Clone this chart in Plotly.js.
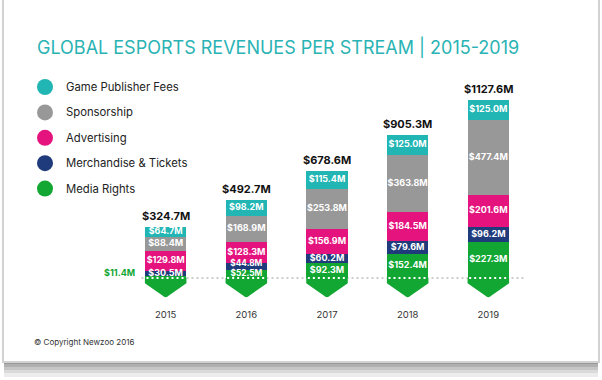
<!DOCTYPE html>
<html>
<head>
<meta charset="utf-8">
<script src="https://cdn.plot.ly/plotly-3.0.1.min.js"></script>
<style>html,body{margin:0;padding:0;background:#fff;}#chart{width:602px;height:380px;}</style>
</head>
<body>
<div id="chart"></div>
<script>
// ---- data (bottom of the stack first) ----
const years = ['2015', '2016', '2017', '2018', '2019'];
const seriesNames = ['Media Rights', 'Merchandise & Tickets', 'Advertising', 'Sponsorship', 'Game Publisher Fees'];
const mediaRights   = [11.4, 52.5, 92.3, 152.4, 227.3];
const merchandise   = [30.5, 44.8, 60.2, 79.6, 96.2];
const advertising   = [129.8, 128.3, 156.9, 184.5, 201.6];
const sponsorship   = [88.4, 168.9, 253.8, 363.8, 477.4];
const publisherFees = [64.7, 98.2, 115.4, 125.0, 125.0];
const totals        = [324.7, 492.7, 678.6, 905.3, 1127.6];
const legendOrder   = ['Game Publisher Fees', 'Sponsorship', 'Advertising', 'Merchandise & Tickets', 'Media Rights'];

const seriesValues = [mediaRights, merchandise, advertising, sponsorship, publisherFees];
const colors = {
  'Media Rights': '#12a632',
  'Merchandise & Tickets': '#1f3b7b',
  'Advertising': '#e5137e',
  'Sponsorship': '#989898',
  'Game Publisher Fees': '#21b5b3'
};

// ---- geometry ----
const L = 85, T = 80, W = 484, H = 220;
const xRange = [-1, 5], yRange = [-139.3, 1253];
const pxPerUnitY = H / (yRange[1] - yRange[0]);
const barFrac = 0.515;
const px2x = p => (p - L) / W;
const py2y = p => (T + H - p) / H;
const xs = years.map((y, i) => i);
const FONT = 'Inter, Lato, sans-serif';
const MIN_LABEL_GAP = 10; // px between stacked label centres

const traces = [];
seriesNames.forEach((name, s) => {
  traces.push({
    type: 'bar', name: name, x: xs, y: seriesValues[s],
    marker: {color: colors[name], line: {width: 0}},
    showlegend: false, hoverinfo: 'skip'
  });
});

// segment labels
const lx = [], ly = [], lt = [], ls = [];
const annotations = [];
const base = xs.map(() => 0);
const lastLabelY = xs.map(() => null);
const lastLabelIdx = xs.map(() => null);
seriesNames.forEach((name, s) => {
  seriesValues[s].forEach((v, i) => {
    const label = '$' + v.toFixed(1) + 'M';
    if (v * pxPerUnitY < 3) {
      annotations.push({x: i, y: base[i] + v / 2, xref: 'x', yref: 'y', text: '<b>' + label + '</b>',
        showarrow: false, xanchor: 'right', yanchor: 'middle', xshift: -29, yshift: 4.5,
        font: {family: FONT, size: 9, color: colors[name]}});
    } else {
      let yMid = base[i] + v / 2;
      let size = 9;
      if (lastLabelY[i] !== null && (yMid - lastLabelY[i]) * pxPerUnitY < MIN_LABEL_GAP) {
        yMid = lastLabelY[i] + MIN_LABEL_GAP / pxPerUnitY;
        size = 8.3;
        ls[lastLabelIdx[i]] = 8.3;
      }
      lx.push(i); ly.push(yMid); lt.push('<b>' + label + '</b>'); ls.push(size);
      lastLabelY[i] = yMid;
      lastLabelIdx[i] = lx.length - 1;
    }
    base[i] += v;
  });
});
traces.push({type: 'scatter', mode: 'text', x: lx, y: ly, text: lt, textposition: 'middle center',
  textfont: {family: FONT, size: ls, color: '#ffffff'}, showlegend: false, hoverinfo: 'skip', cliponaxis: false});

// totals above the bars
totals.forEach((t, i) => {
  annotations.push({x: i, y: t, xref: 'x', yref: 'y', text: '<b>$' + t.toFixed(1) + 'M</b>', showarrow: false,
    xanchor: 'center', yanchor: 'middle', yshift: 11, font: {family: FONT, size: 11, color: '#111111'}});
});

// shapes
const shapes = [];
// card and shadow
const shadow = [[362, 364, '#999999'], [364, 367, '#b0b0b0'], [367, 370, '#c6c6c6'], [370, 373, '#dadada'], [373, 377, '#ececec']];
shadow.forEach(r => shapes.push({type: 'rect', xref: 'paper', yref: 'paper', x0: px2x(4), x1: px2x(598), y0: py2y(r[1]), y1: py2y(r[0]),
  fillcolor: r[2], line: {width: 0}, layer: 'below'}));
shapes.push({type: 'rect', xref: 'paper', yref: 'paper', x0: px2x(3), x1: px2x(599), y0: py2y(362), y1: py2y(-6),
  fillcolor: '#ffffff', line: {color: '#d2d2d2', width: 2}, layer: 'below'});
// dotted baseline
shapes.push({type: 'line', xref: 'x', yref: 'y', x0: -0.3, x1: 4.45, y0: 0, y1: 0,
  line: {color: '#cccccc', width: 2, dash: '2px,3px'}, layer: 'below'});
// arrow heads under each bar
const hw = barFrac / 2;
const side = 33, tip = 125, tipR = 0.04;
xs.forEach(i => {
  const x0 = i - hw, x1 = i + hw;
  const slope = (tip - side) / hw;
  const yr = -tip + slope * tipR;
  shapes.push({type: 'path', xref: 'x', yref: 'y', layer: 'above',
    path: `M ${x0},0 L ${x0},${-side} L ${i - tipR},${yr} Q ${i},${-tip - 8} ${i + tipR},${yr} L ${x1},${-side} L ${x1},0 Z`,
    fillcolor: colors['Media Rights'], line: {width: 0}});
  shapes.push({type: 'line', xref: 'x', yref: 'y', x0: x0 + 0.02, x1: x1, y0: 0, y1: 0, layer: 'above',
    line: {color: '#ffffff', width: 2, dash: '2px,3px'}});
});

// manual legend
legendOrder.forEach((name, k) => {
  const cy = 87 + 25.4 * k;
  shapes.push({type: 'circle', xref: 'paper', yref: 'paper', xsizemode: 'pixel', ysizemode: 'pixel',
    xanchor: px2x(45), yanchor: py2y(cy), x0: -8, x1: 8, y0: -8, y1: 8,
    fillcolor: colors[name], line: {width: 0}});
  annotations.push({xref: 'paper', yref: 'paper', x: px2x(64), y: py2y(cy), text: name, showarrow: false,
    xanchor: 'left', yanchor: 'middle', font: {family: FONT, size: 11.3, color: '#222222'}});
});
annotations.push({xref: 'paper', yref: 'paper', x: px2x(32), y: py2y(342), text: '© Copyright Newzoo 2016', showarrow: false,
  xanchor: 'left', yanchor: 'middle', font: {family: FONT, size: 8, color: '#333333'}});

const layout = {
  width: 602, height: 380,
  margin: {l: L, r: 602 - L - W, t: T, b: 380 - T - H, pad: 0},
  paper_bgcolor: '#ffffff', plot_bgcolor: 'rgba(0,0,0,0)',
  barmode: 'stack', bargap: 1 - barFrac,
  showlegend: false,
  title: {text: 'GLOBAL ESPORTS REVENUES PER STREAM | 2015-2019', xref: 'container', yref: 'container',
    x: 37 / 602, xanchor: 'left', y: 1 - 47.5 / 380, yanchor: 'middle',
    font: {family: FONT, size: 18, color: '#2ab3b4', weight: 400}},
  xaxis: {range: xRange, tickvals: xs, ticktext: years, showgrid: false, zeroline: false, showline: false,
    ticks: '', ticklabelstandoff: 7, tickfont: {family: FONT, size: 9.5, color: '#333333'}, fixedrange: true},
  yaxis: {range: yRange, visible: false, showgrid: false, zeroline: false, fixedrange: true},
  shapes: shapes,
  annotations: annotations
};

Plotly.newPlot('chart', traces, layout, {displayModeBar: false, staticPlot: true});
</script>
</body>
</html>
